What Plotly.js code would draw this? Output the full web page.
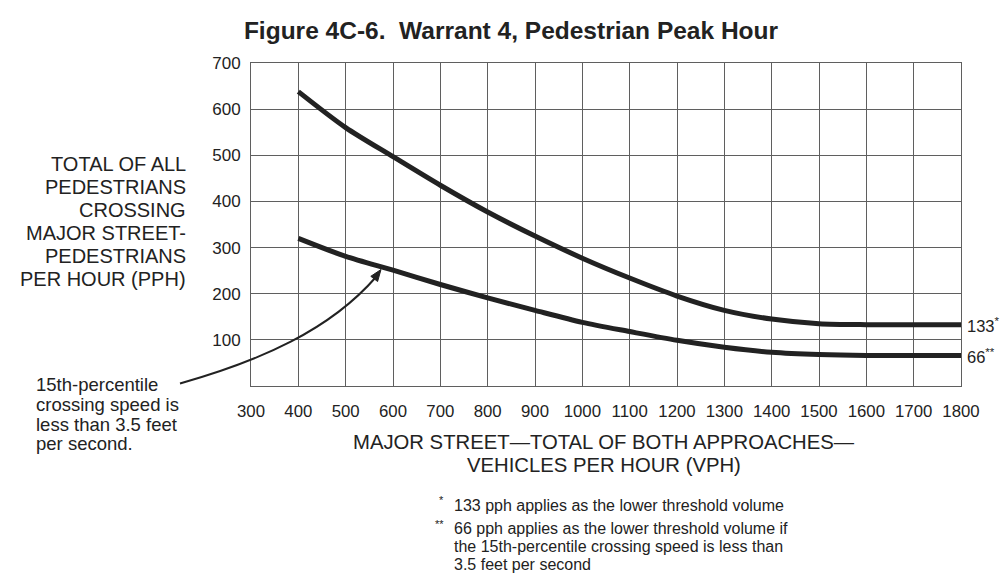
<!DOCTYPE html>
<html>
<head>
<meta charset="utf-8">
<script src="https://cdn.plot.ly/plotly-3.0.1.min.js"></script>
<style>html,body{margin:0;padding:0;background:#fff;}#chart{width:1007px;height:580px;}</style>
</head>
<body>
<div id="chart"></div>
<script>
// ---- data ----
const vph = [400, 500, 600, 700, 800, 900, 1000, 1100, 1200, 1300, 1400, 1500, 1600, 1700, 1800];
const pphStandard = [638, 560, 497, 435, 377, 325, 277, 234, 195, 164, 145, 135, 133, 133, 133];
const pphSlowWalk = [320, 281, 251, 220, 191, 164, 138, 118, 99, 84, 73, 68, 66, 66, 66];
const xTicks = [300, 400, 500, 600, 700, 800, 900, 1000, 1100, 1200, 1300, 1400, 1500, 1600, 1700, 1800];
const yTicks = [100, 200, 300, 400, 500, 600, 700];
const endLabels = ['133<sup>*</sup>', '66<sup>**</sup>'];
const yTitleLines = ['TOTAL OF ALL', 'PEDESTRIANS', 'CROSSING', 'MAJOR STREET-', 'PEDESTRIANS', 'PER HOUR (PPH)'];
const xTitleLines = ['MAJOR STREET\u2014TOTAL OF BOTH APPROACHES\u2014', 'VEHICLES PER HOUR (VPH)'];
const noteLines = ['15th-percentile', 'crossing speed is', 'less than 3.5 feet', 'per second.'];
const footLines = ['133 pph applies as the lower threshold volume',
                   '66 pph applies as the lower threshold volume if',
                   'the 15th-percentile crossing speed is less than',
                   '3.5 feet per second'];
const footMarks = ['*', '**'];

// ---- layout geometry ----
const W = 1007, H = 580;
const L = 251, R = 961, T = 63, B = 386;
const PW = R - L, PH = B - T;
const px = v => (v - L) / PW;
const py = v => (B - v) / PH;
const FONT = '"Liberation Sans", Arial, Helvetica, sans-serif';
const INK = '#222';
const GRID = '#5f5f5f';

const traces = [
  {x: vph, y: pphStandard, mode: 'lines', line: {color: INK, width: 5, shape: 'spline', smoothing: 0.8}, hoverinfo: 'skip'},
  {x: vph, y: pphSlowWalk, mode: 'lines', line: {color: INK, width: 5, shape: 'spline', smoothing: 0.8}, hoverinfo: 'skip'}
];

const ann = [];
// y-axis title lines (right aligned)
const yTitleY = [163.5, 186.8, 210, 233.3, 256.3, 279];
yTitleLines.forEach((t, i) => ann.push({
  text: t, xref: 'paper', yref: 'paper', x: px(187.5), y: py(yTitleY[i]),
  xanchor: 'right', yanchor: 'middle', showarrow: false,
  font: {family: FONT, size: 20, color: INK}
}));
// x-axis title lines (centered)
const xTitleY = [442, 465];
xTitleLines.forEach((t, i) => ann.push({
  text: t, xref: 'paper', yref: 'paper', x: px(604), y: py(xTitleY[i]),
  xanchor: 'center', yanchor: 'middle', showarrow: false,
  font: {family: FONT, size: 20.3, color: INK}
}));
// left note
const noteY = [384.5, 404, 424, 443.5];
noteLines.forEach((t, i) => ann.push({
  text: t, xref: 'paper', yref: 'paper', x: px(33.5), y: py(noteY[i]),
  xanchor: 'left', yanchor: 'middle', showarrow: false,
  font: {family: FONT, size: 18.5, color: INK}
}));
// footnotes
const footY = [505, 528.5, 546.5, 564];
footLines.forEach((t, i) => ann.push({
  text: t, xref: 'paper', yref: 'paper', x: px(452), y: py(footY[i]),
  xanchor: 'left', yanchor: 'middle', showarrow: false,
  font: {family: FONT, size: 16, color: INK}
}));
footMarks.forEach((m, i) => ann.push({
  text: m, xref: 'paper', yref: 'paper', x: px(446), y: py(footY[i] - 5),
  xanchor: 'right', yanchor: 'middle', showarrow: false,
  font: {family: FONT, size: 11, color: INK}
}));
// end labels on the right
[pphStandard[pphStandard.length - 1], pphSlowWalk[pphSlowWalk.length - 1]].forEach((v, i) => ann.push({
  text: endLabels[i], xref: 'paper', yref: 'y', x: px(965), y: v,
  xanchor: 'left', yanchor: 'middle', showarrow: false,
  font: {family: FONT, size: 16.5, color: INK}
}));

// curved pointer line with arrowhead
const p0 = [180, 383.5], c1 = [260, 361], c2 = [330, 330], p3 = [376, 277];
const pathStr = 'M ' + px(p0[0]) + ' ' + py(p0[1]) +
  ' C ' + px(c1[0]) + ' ' + py(c1[1]) + ', ' + px(c2[0]) + ' ' + py(c2[1]) + ', ' + px(p3[0]) + ' ' + py(p3[1]);
const tip = [381, 269.5], h1 = [377.6, 281.5], h2 = [370.8, 276.3];
const headStr = 'M ' + px(tip[0]) + ' ' + py(tip[1]) + ' L ' + px(h1[0]) + ' ' + py(h1[1]) +
  ' L ' + px(h2[0]) + ' ' + py(h2[1]) + ' Z';

const layout = {
  width: W, height: H,
  margin: {l: L, r: W - R, t: T, b: H - B, pad: 0},
  paper_bgcolor: '#fff', plot_bgcolor: '#fff',
  showlegend: false,
  title: {text: 'Figure 4C-6.\u00A0 Warrant 4, Pedestrian Peak Hour', x: 511 / W, xanchor: 'center',
          y: 1 - 30 / H, yanchor: 'middle', font: {family: FONT, size: 24.5, color: INK, weight: 'bold'}},
  xaxis: {range: [300, 1800], tickvals: xTicks, ticktext: xTicks.map(String),
          showgrid: true, gridcolor: GRID, gridwidth: 1, zeroline: false,
          showline: true, linecolor: GRID, linewidth: 1, mirror: true,
          ticks: 'outside', ticklen: 10, tickcolor: 'rgba(0,0,0,0)',
          tickfont: {family: FONT, size: 16.8, color: INK}, fixedrange: true},
  yaxis: {range: [0, 700], tickvals: yTicks, ticktext: yTicks.map(String),
          showgrid: true, gridcolor: GRID, gridwidth: 1, zeroline: false,
          showline: true, linecolor: GRID, linewidth: 1, mirror: true,
          ticks: 'outside', ticklen: 6, tickcolor: 'rgba(0,0,0,0)',
          tickfont: {family: FONT, size: 17, color: INK}, fixedrange: true},
  annotations: ann,
  shapes: [
    {type: 'path', xref: 'paper', yref: 'paper', path: pathStr, line: {color: INK, width: 2}, layer: 'above'},
    {type: 'path', xref: 'paper', yref: 'paper', path: headStr, line: {color: INK, width: 1}, fillcolor: INK, layer: 'above'}
  ]
};

Plotly.newPlot('chart', traces, layout, {displayModeBar: false, staticPlot: true});
</script>
</body>
</html>
